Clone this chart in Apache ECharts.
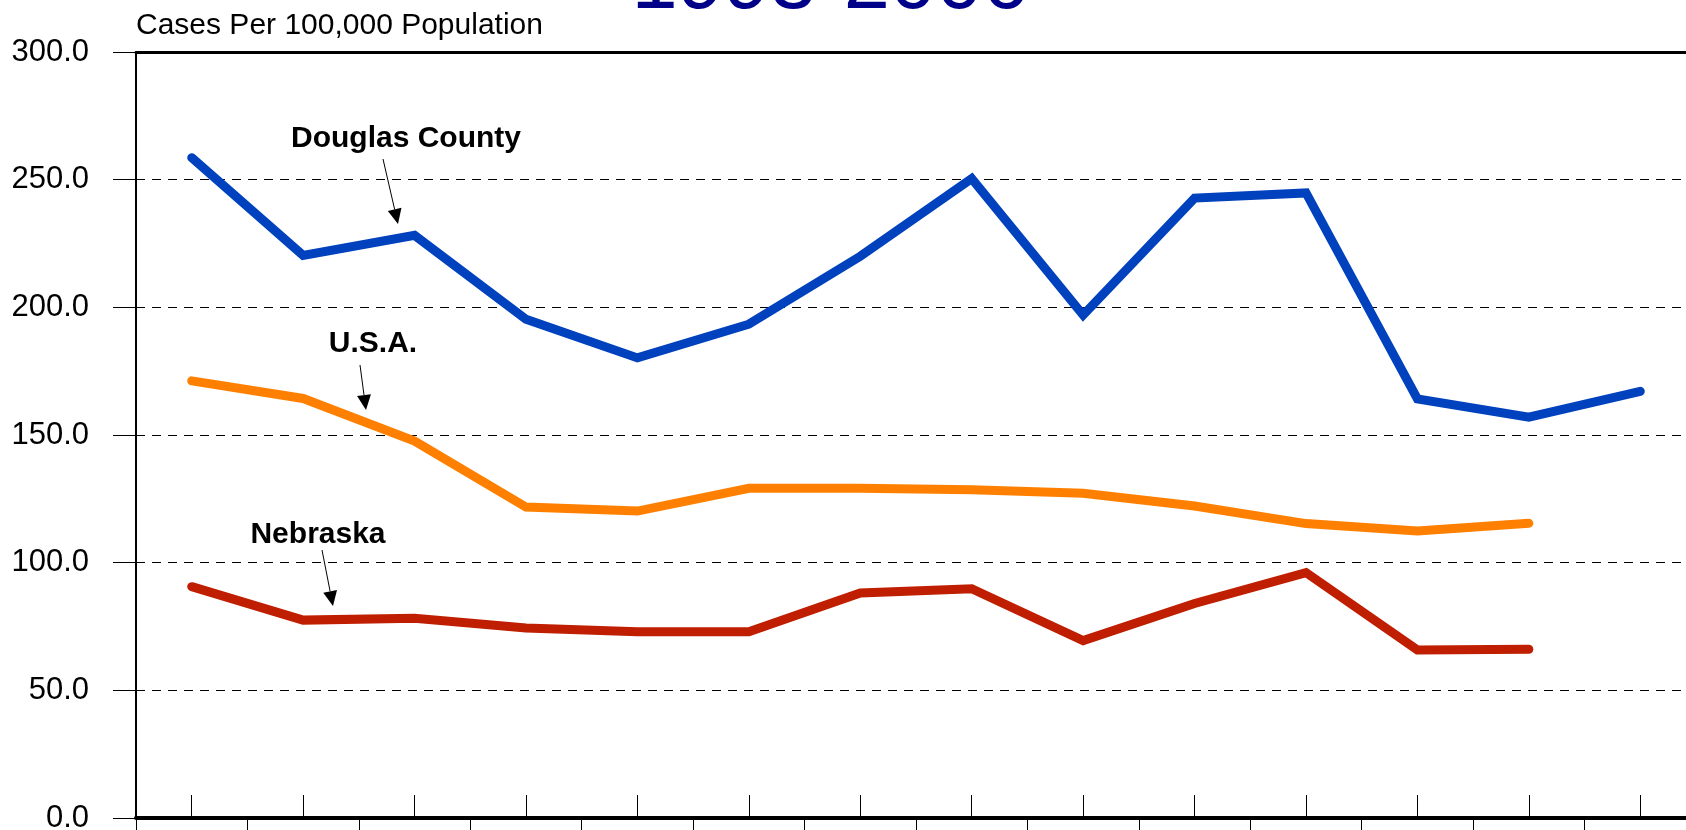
<!DOCTYPE html>
<html>
<head>
<meta charset="utf-8">
<script src="https://cdn.jsdelivr.net/npm/echarts@6/dist/echarts.min.js"></script>
<style>
  html, body { margin: 0; padding: 0; background: #fff; }
  #chart { width: 1686px; height: 830px; }
</style>
</head>
<body>
<div id="chart"></div>
<script>
var chartDom = document.getElementById('chart');
var myChart = echarts.init(chartDom, null, { renderer: 'canvas' });

// data
var years = ['1993', '1994', '1995', '1996', '1997', '1998', '1999',
  '2000', '2001', '2002', '2003', '2004', '2005', '2006'];
var douglas = [258.6, 220.3, 228.2, 195.3, 180.2, 193.4, 220.0, 250.4, 197.0, 242.8, 244.8, 164.1, 157.0, 167.1];
var usa = [171.2, 164.3, 147.6, 121.8, 120.2, 129.1, 129.1, 128.6, 127.2, 122.2, 115.3, 112.4, 115.4];
var nebraska = [90.6, 77.5, 78.2, 74.4, 72.9, 72.9, 88.1, 89.8, 69.5, 84.0, 96.1, 65.8, 66.1];
var seriesNames = ['Douglas County', 'U.S.A.', 'Nebraska'];
var seriesColors = ['#0041BE', '#FF8000', '#C01E00'];

var FONT = '"Liberation Sans", Arial, sans-serif';

// arrow = thin line + filled head
function arrow(x1, y1, x2, y2) {
  var dx = x2 - x1, dy = y2 - y1;
  var len = Math.sqrt(dx * dx + dy * dy);
  var ux = dx / len, uy = dy / len;
  var headLen = 15, headW = 7;
  var bx = x2 - ux * headLen, by = y2 - uy * headLen;
  return [
    {
      type: 'line',
      shape: { x1: x1, y1: y1, x2: bx, y2: by },
      style: { stroke: '#000', lineWidth: 1 }
    },
    {
      type: 'polygon',
      shape: { points: [[x2, y2], [bx - uy * headW, by + ux * headW], [bx + uy * headW, by - ux * headW]] },
      style: { fill: '#000' }
    }
  ];
}

function label(text, x, y) {
  return {
    type: 'text',
    x: x,
    y: y,
    style: {
      text: text,
      font: 'bold 30px ' + FONT,
      fill: '#000',
      align: 'center',
      verticalAlign: 'middle'
    }
  };
}

var graphics = [
  {
    type: 'text',
    x: 830,
    y: -15,
    style: {
      text: '1993-2006',
      font: '83px ' + FONT,
      fill: '#000088',
      align: 'center',
      verticalAlign: 'middle'
    }
  },
  label(seriesNames[0], 406, 139),
  label(seriesNames[1], 373, 344),
  label(seriesNames[2], 318, 535)
].concat(arrow(383, 159, 398, 224))
 .concat(arrow(360, 365, 366, 410))
 .concat(arrow(322, 550, 333, 606));

var option = {
  animation: false,
  backgroundColor: '#fff',
  grid: {
    left: 136,
    width: 1560,
    top: 52,
    bottom: 12,
    containLabel: false,
    outerBoundsMode: 'none'
  },
  xAxis: [
    {
      // boundary ticks below the axis
      type: 'category',
      data: years,
      position: 'bottom',
      boundaryGap: true,
      axisLine: { show: true, onZero: false, lineStyle: { color: '#000', width: 4 } },
      axisTick: { show: true, inside: false, length: 14, interval: 0, lineStyle: { color: '#000', width: 1 } },
      axisLabel: { show: false },
      splitLine: { show: false }
    },
    {
      // ticks at the data points, pointing up into the plot
      type: 'category',
      data: years,
      position: 'bottom',
      boundaryGap: true,
      axisLine: { show: false, onZero: false },
      axisTick: { show: true, inside: true, alignWithLabel: true, length: 23, interval: 0, lineStyle: { color: '#000', width: 1 } },
      axisLabel: { show: false, interval: 0 },
      splitLine: { show: false }
    },
    {
      // top border
      type: 'category',
      data: years,
      position: 'top',
      axisLine: { show: true, onZero: false, lineStyle: { color: '#000', width: 3 } },
      axisTick: { show: false },
      axisLabel: { show: false },
      splitLine: { show: false }
    }
  ],
  yAxis: {
    type: 'value',
    min: 0,
    max: 300,
    interval: 50,
    name: 'Cases Per 100,000 Population',
    nameLocation: 'end',
    nameGap: 26,
    nameTextStyle: {
      fontFamily: FONT,
      fontSize: 30,
      color: '#000',
      align: 'left',
      verticalAlign: 'middle'
    },
    axisLine: { show: true, lineStyle: { color: '#000', width: 2 } },
    axisTick: { show: true, inside: false, length: 23, lineStyle: { color: '#000', width: 1 } },
    axisLabel: {
      margin: 47,
      fontFamily: FONT,
      fontSize: 31,
      color: '#000',
      formatter: function (v) { return v.toFixed(1); }
    },
    splitLine: {
      show: true,
      lineStyle: { color: '#000', width: 1, type: [9, 7] }
    }
  },
  series: [douglas, usa, nebraska].map(function (d, i) {
    return {
      name: seriesNames[i],
      type: 'line',
      xAxisIndex: 0,
      data: d,
      showSymbol: false,
      symbol: 'none',
      lineStyle: { color: seriesColors[i], width: 9, cap: 'round', join: 'miter' },
      itemStyle: { color: seriesColors[i] },
      z: 5
    };
  }),
  graphic: graphics
};

myChart.setOption(option);
</script>
</body>
</html>
